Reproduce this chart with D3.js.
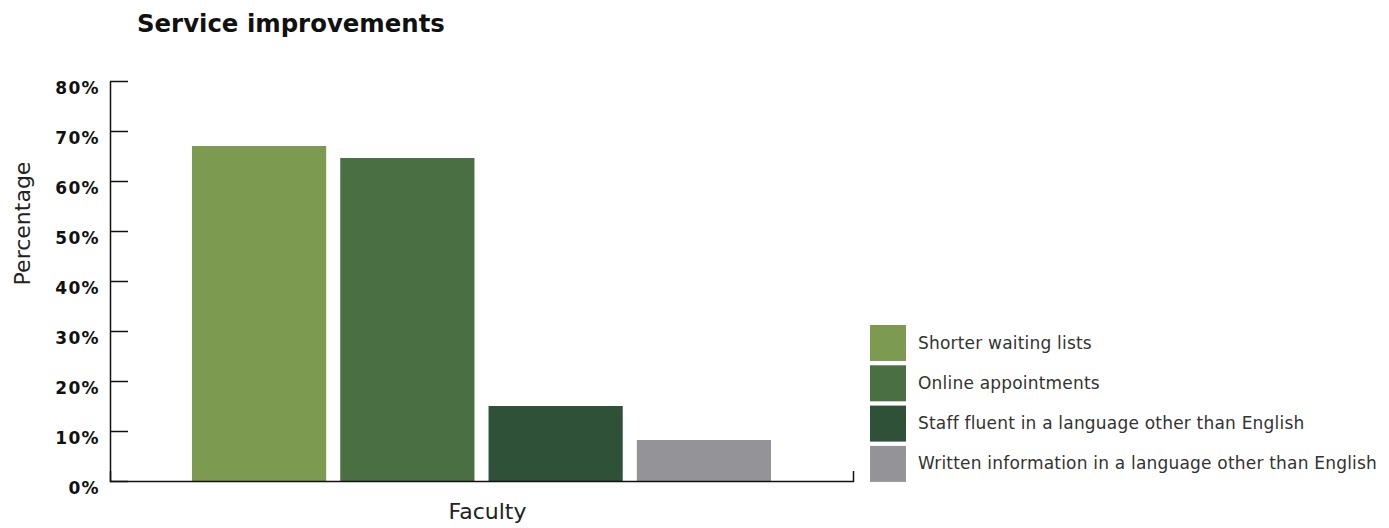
<!DOCTYPE html>
<html>
<head>
<meta charset="utf-8">
<script src="https://cdn.jsdelivr.net/npm/d3@7"></script>
<style>
  html, body { margin: 0; padding: 0; background: #ffffff; }
  svg { display: block; font-family: "DejaVu Sans", "Noto Sans", sans-serif; }
</style>
</head>
<body>
<svg id="chart" width="1389" height="528"></svg>
<script>
// Survey responses: share of respondents choosing each improvement
const categories = ["Faculty"];
const seriesNames = [
  "Shorter waiting lists",
  "Online appointments",
  "Staff fluent in a language other than English",
  "Written information in a language other than English"
];
const seriesValues = [67, 64.6, 15, 8.2];
const seriesColors = ["#7d9a51", "#496f43", "#2e5138", "#949498"];
const yTicks = [0, 10, 20, 30, 40, 50, 60, 70, 80];

const svg = d3.select("#chart");

const plot = { left: 110, right: 853, top: 81, bottom: 481 };

const y = d3.scaleLinear().domain([0, 80]).range([plot.bottom, plot.top]);

const x0 = d3.scaleBand()
  .domain(categories)
  .range([plot.left, plot.right])
  .paddingInner(0)
  .paddingOuter(0.1416);

const x1 = d3.scaleBand()
  .domain(seriesNames)
  .range([0, x0.bandwidth()])
  .paddingInner(0.095)
  .paddingOuter(0);

const color = d3.scaleOrdinal().domain(seriesNames).range(seriesColors);

// Title
svg.append("text")
  .attr("x", 137)
  .attr("y", 32)
  .attr("font-size", 24.4)
  .attr("font-weight", "bold")
  .attr("fill", "#111")
  .text("Service improvements");

// Bars
const rows = seriesNames.map((name, i) => ({ category: categories[0], name, value: seriesValues[i] }));

svg.append("g")
  .selectAll("rect")
  .data(rows)
  .join("rect")
  .attr("x", d => x0(d.category) + x1(d.name))
  .attr("y", d => y(d.value))
  .attr("width", x1.bandwidth())
  .attr("height", d => y(0) - y(d.value))
  .attr("fill", d => color(d.name));

// Y axis: ticks point into the plot, labels on the left
const yAxis = d3.axisLeft(y)
  .tickValues(yTicks)
  .tickFormat(d => d + "%")
  .tickSize(-18)
  .tickSizeOuter(0)
  .tickPadding(10);

const gy = svg.append("g")
  .attr("transform", `translate(${plot.left},0)`)
  .call(yAxis);
gy.select(".domain").attr("stroke", "#111").attr("stroke-width", 1.5);
gy.selectAll(".tick line").attr("stroke", "#111").attr("stroke-width", 1.5);
gy.selectAll(".tick text")
  .attr("font-size", 17)
  .attr("font-weight", "bold")
  .attr("letter-spacing", "0.08em")
  .attr("fill", "#111")
  .attr("font-family", "DejaVu Sans, sans-serif")
  .attr("dy", "0.72em");

// X axis: baseline with an upward end tick
const xAxis = d3.axisBottom(x0).tickSize(0).tickSizeOuter(-10).tickFormat("");
const gx = svg.append("g")
  .attr("transform", `translate(0,${plot.bottom})`)
  .call(xAxis);
gx.select(".domain").attr("stroke", "#111").attr("stroke-width", 1.5);

// Axis titles
svg.append("text")
  .attr("x", x0(categories[0]) + x0.bandwidth() / 2 + 6)
  .attr("y", 519)
  .attr("text-anchor", "middle")
  .attr("font-size", 22)
  .attr("fill", "#222")
  .text(categories[0]);

svg.append("text")
  .attr("transform", "translate(30,223.5) rotate(-90)")
  .attr("text-anchor", "middle")
  .attr("font-size", 22)
  .attr("fill", "#222")
  .text("Percentage");

// Legend
const legend = svg.append("g").attr("transform", "translate(870,325)");
const item = legend.selectAll("g")
  .data(seriesNames)
  .join("g")
  .attr("transform", (d, i) => `translate(0,${i * 40.3})`);
item.append("rect")
  .attr("width", 36)
  .attr("height", 36)
  .attr("fill", d => color(d));
item.append("text")
  .attr("x", 48)
  .attr("y", 23.5)
  .attr("font-size", 17)
  .attr("letter-spacing", "0.2px")
  .attr("fill", "#333")
  .text(d => d);
</script>
</body>
</html>
